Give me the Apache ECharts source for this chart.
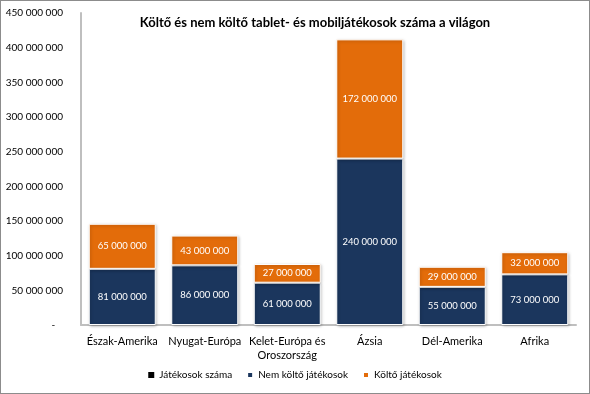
<!DOCTYPE html>
<html><head><meta charset="utf-8">
<script src="https://cdn.jsdelivr.net/npm/echarts@6/dist/echarts.min.js"></script>
<style>html,body{margin:0;padding:0;background:#fff}#c{width:590px;height:394px;box-sizing:border-box;border:1px solid #8c8c8c}</style>
</head><body><div id="c"></div>
<script>
var categories = ['Észak-Amerika', 'Nyugat-Európa', 'Kelet-Európa és\nOroszország', 'Ázsia', 'Dél-Amerika', 'Afrika'];
var nonPaying = [81000000, 86000000, 61000000, 240000000, 55000000, 73000000];
var paying = [65000000, 43000000, 27000000, 172000000, 29000000, 32000000];
var totals = [146000000, 129000000, 88000000, 412000000, 84000000, 105000000];
var titleText = 'Költő és nem költő tablet- és mobiljátékosok száma a világon';

function fmt(v){ if(v===0) return '-   '; return String(v).replace(/\B(?=(\d{3})+(?!\d))/g,' '); }
var font = 'Lato';
var chart = echarts.init(document.getElementById('c'), null, {renderer:'canvas'});
var barStyle = function(c){ return {color:c, borderColor:'#fff', borderWidth:1, shadowColor:'rgba(0,0,0,0.25)', shadowBlur:3, shadowOffsetX:1, shadowOffsetY:1}; };
chart.setOption({
  animation:false,
  title:{text:titleText, left:309, top:10, textAlign:'center', textStyle:{fontFamily:font, fontWeight:'bold', fontSize:13, color:'#000'}},
  grid:{left:80, right:13, top:12, bottom:68},
  legend:{bottom:8, left:'center', itemWidth:6, itemHeight:6, itemGap:14, textStyle:{fontFamily:font, fontSize:10, color:'#000'},
    data:[{name:'Játékosok száma', icon:'rect', itemStyle:{color:'#000'}},{name:'Nem költő játékosok', icon:'rect'},{name:'Költő játékosok', icon:'rect'}]},
  xAxis:{type:'category', data:categories, axisTick:{show:false}, axisLine:{lineStyle:{color:'#bfbfbf', width:2}},
    axisLabel:{fontFamily:font, fontSize:11, color:'#000', margin:9, interval:0, lineHeight:14}},
  yAxis:{type:'value', min:0, max:450000000, interval:50000000, splitLine:{show:false},
    axisLine:{show:true, lineStyle:{color:'#bfbfbf', width:2}}, axisTick:{show:false},
    axisLabel:{formatter:fmt, fontFamily:font, fontSize:10, color:'#000', margin:18}},
  series:[
    {name:'Játékosok száma', type:'bar', data:totals, barWidth:67, itemStyle:{color:'rgba(0,0,0,0)'}, silent:true, z:1},
    {name:'Nem költő játékosok', type:'bar', stack:'a', data:nonPaying, barWidth:67, barGap:'-100%', itemStyle:barStyle('#1b365d'),
      label:{show:true, position:'inside', color:'#fff', fontFamily:font, fontSize:9.5, formatter:function(p){return fmt(p.value);}}, z:2},
    {name:'Költő játékosok', type:'bar', stack:'a', data:paying, barWidth:67, itemStyle:barStyle('#e36c0a'),
      label:{show:true, position:'inside', color:'#fff', fontFamily:font, fontSize:9.5, formatter:function(p){return fmt(p.value);}}, z:2}
  ]
});
</script></body></html>
